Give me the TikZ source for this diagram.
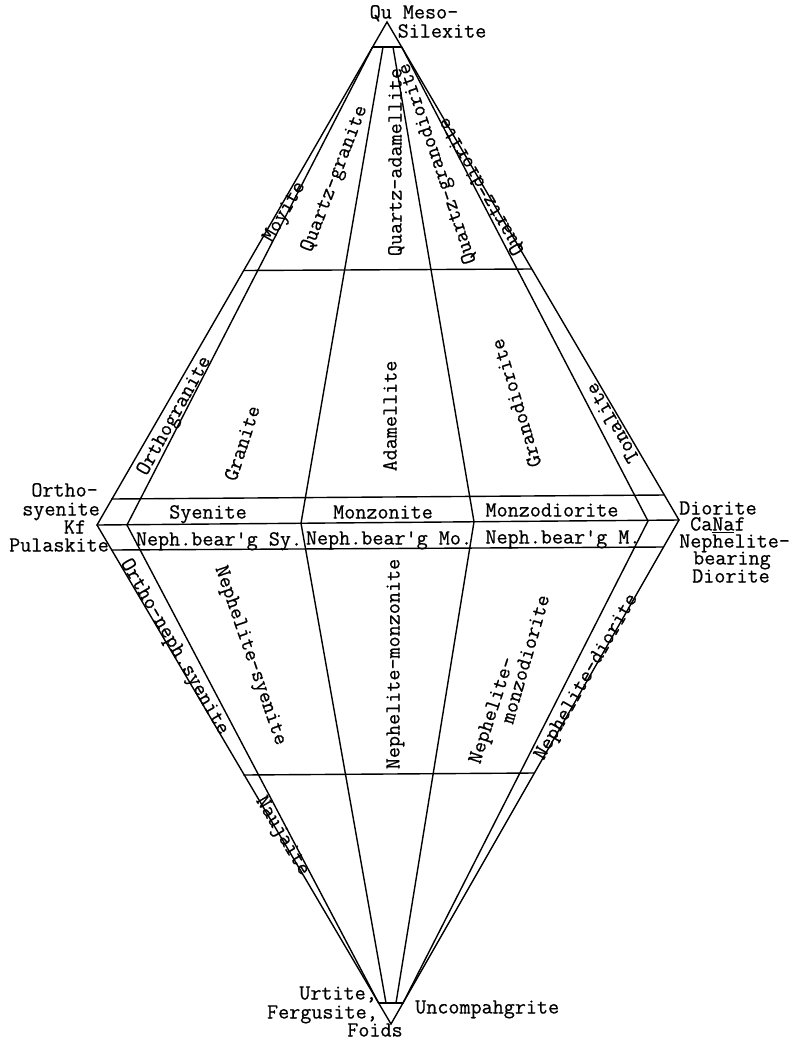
\documentclass[tikz,border=0pt]{standalone}
\usepackage{fontspec}
\newfontfamily\typewr{Latin Modern Mono}[FakeBold=0.6]
\begin{document}
\begin{tikzpicture}[x=1pt,y=-1pt,
  ln/.style={line width=1.4pt, line join=miter, line cap=round},
  lab/.style={font=\fontsize{21.5}{22}\selectfont\typewr, inner sep=0pt, text height=13pt, text depth=0pt}]
\useasboundingbox[fill=white] (0,0) rectangle (792,1045);
% --- geometry
\coordinate (T) at (387,22);
\coordinate (TBL) at (372.6,47);
\coordinate (TBR) at (401.7,47);
\coordinate (L) at (97,525);
\coordinate (LI) at (127,525);
\coordinate (R) at (679,520);
\coordinate (RI) at (648,521);
\coordinate (B) at (391,1024);
\coordinate (BBL) at (378.6,1003);
\coordinate (BBR) at (403,1003);
\coordinate (U1) at (383,47);
\coordinate (U2) at (393,47);
\coordinate (M1) at (301,523.2);
\coordinate (M2) at (474,521.8);
\coordinate (D1) at (386,1003);
\coordinate (D2) at (396,1003);
\coordinate (H1a) at (244.3,270.5);
\coordinate (H1b) at (531.5,269);
\coordinate (H2a) at (111.5,499);
\coordinate (H2b) at (664.5,495);
\coordinate (H3a) at (111.5,550);
\coordinate (H3b) at (663.5,547);
\coordinate (H4a) at (243.8,775);
\coordinate (H4b) at (534,773);
% --- outline
\draw[ln] (T) -- (L) -- (B) -- (R) -- cycle;
\draw[ln] (TBL) -- (LI) -- (BBL);
\draw[ln] (TBR) -- (RI) -- (BBR);
\draw[ln] (TBL) -- (TBR);
\draw[ln] (BBL) -- (BBR);
\draw[ln] (U1) -- (M1) -- (D1);
\draw[ln] (U2) -- (M2) -- (D2);
\draw[ln] (L) -- (R);
\draw[ln] (H1a) -- (H1b);
\draw[ln] (H2a) -- (H2b);
\draw[ln] (H3a) -- (H3b);
\draw[ln] (H4a) -- (H4b);
% --- apex and vertex labels
\node[lab] (qu) at (414,12) {Qu Meso-};
\node[lab] (sil) at (442,31) {Silexite};
\node[lab, anchor=east] (orth) at (98,490) {Ortho-};
\node[lab, anchor=east] (sye) at (100,509) {syenite};
\node[lab] (kf) at (75,527) {Kf};
\node[lab, anchor=east] (pul) at (109,545) {Pulaskite};
\node[lab, anchor=west] (dio) at (679,508) {Diorite};
\node[lab, anchor=west] (cana) at (690,524) {Ca\underline{Na}f};
\node[lab, anchor=west] (neph) at (679,541) {Nephelite-};
\node[lab, anchor=west] (bear) at (693,558) {bearing};
\node[lab, anchor=west] (dio2) at (692,576) {Diorite};
\node[lab, anchor=east] (urt) at (377,993) {Urtite,};
\node[lab, anchor=east] (ferg) at (378,1012) {Fergusite,};
\node[lab] (foid) at (375,1030) {Foids};
\node[lab, anchor=west] (unc) at (415,1007) {Uncompahgrite};
% --- band labels
\node[lab] (syen) at (208,512) {Syenite};
\node[lab] (monz) at (383,512) {Monzonite};
\node[lab] (monzd) at (552,510) {Monzodiorite};
\node[lab] (nbs) at (219,539) {Neph.bear'g Sy.};
\node[lab] (nbm) at (389,538) {Neph.bear'g Mo.};
\node[lab] (nbd) at (563,537) {Neph.bear'g M.};
% --- rotated labels, upper half
\node[lab, rotate=60] (moy) at (283,211) {Moyite};
\node[lab, rotate=69] (qgr) at (333,178) {Quartz-granite};
\node[lab, rotate=90] (qad) at (395,162) {Quartz-adamellite};
\node[lab, rotate=108.7] (qgd) at (436,164) {Quartz-granodiorite};
\node[lab, rotate=120] (qdi) at (480,187) {Quartz-diorite};
\node[lab, rotate=61] (ogr) at (173,415) {Orthogranite};
\node[lab, rotate=72] (gra) at (242,443) {Granite};
\node[lab, rotate=90] (ada) at (390,416) {Adamellite};
\node[lab, rotate=107] (grd) at (516,403) {Granodiorite};
\node[lab, rotate=120] (ton) at (612,423) {Tonalite};
% --- rotated labels, lower half
\node[lab, rotate=-60] (ons) at (176,646) {Ortho-neph.syenite};
\node[lab, rotate=-71] (nsy) at (252,655) {Nephelite-syenite};
\node[lab, rotate=90] (nmo) at (393,664) {Nephelite-monzonite};
\node[lab, rotate=72] (nmd1) at (491,710) {Nephelite-};
\node[lab, rotate=74] (nmd2) at (525,659) {monzodiorite};
\node[lab, rotate=60] (ndi) at (585,676) {Nephelite-diorite};
\node[lab, rotate=-59] (nau) at (284,835) {Naujaite};
\end{tikzpicture}
\end{document}
